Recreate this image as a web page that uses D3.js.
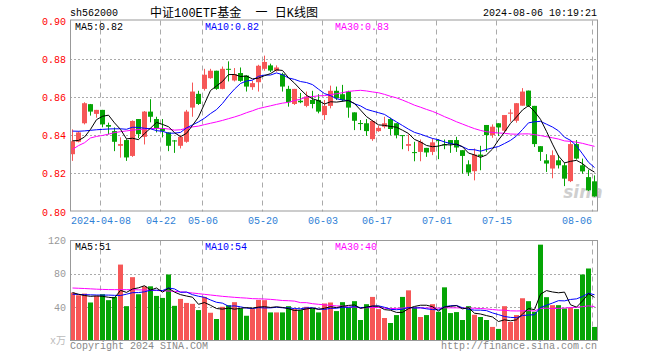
<!DOCTYPE html>
<html><head><meta charset="utf-8">
<script src="https://cdn.jsdelivr.net/npm/d3@7"></script>
<style>body{margin:0;background:#fff}svg{display:block}</style>
</head><body>
<svg id="c" width="660" height="360"></svg>
<script>
const dates = ["2024-03-28","2024-03-29","2024-04-01","2024-04-02","2024-04-03","2024-04-08","2024-04-09","2024-04-10","2024-04-11","2024-04-12",
"2024-04-15","2024-04-16","2024-04-17","2024-04-18","2024-04-19","2024-04-22","2024-04-23","2024-04-24","2024-04-25","2024-04-26",
"2024-04-29","2024-04-30","2024-05-06","2024-05-07","2024-05-08","2024-05-09","2024-05-10","2024-05-13","2024-05-14","2024-05-15",
"2024-05-16","2024-05-17","2024-05-20","2024-05-21","2024-05-22","2024-05-23","2024-05-24","2024-05-27","2024-05-28","2024-05-29",
"2024-05-30","2024-05-31","2024-06-03","2024-06-04","2024-06-05","2024-06-06","2024-06-07","2024-06-11","2024-06-12","2024-06-13",
"2024-06-14","2024-06-17","2024-06-18","2024-06-19","2024-06-20","2024-06-21","2024-06-24","2024-06-25","2024-06-26","2024-06-27",
"2024-06-28","2024-07-01","2024-07-02","2024-07-03","2024-07-04","2024-07-05","2024-07-08","2024-07-09","2024-07-10","2024-07-11",
"2024-07-12","2024-07-15","2024-07-16","2024-07-17","2024-07-18","2024-07-19","2024-07-22","2024-07-23","2024-07-24","2024-07-25",
"2024-07-26","2024-07-29","2024-07-30","2024-07-31","2024-08-01","2024-08-02","2024-08-05","2024-08-06"];

const open = [0.8300,0.8365,0.8462,0.8562,0.8511,0.8532,0.8453,0.8421,0.8344,0.8374,
0.8291,0.8484,0.8391,0.8523,0.8484,0.8435,0.8414,0.8372,0.8344,0.8365,
0.8544,0.8616,0.8642,0.8698,0.8737,0.8642,0.8747,0.8686,0.8725,0.8712,
0.8651,0.8677,0.8747,0.8765,0.8737,0.8719,0.8642,0.8563,0.8580,0.8553,
0.8584,0.8584,0.8505,0.8553,0.8632,0.8614,0.8628,0.8519,0.8463,0.8462,
0.8379,0.8421,0.8444,0.8484,0.8462,0.8400,0.8344,0.8311,0.8312,0.8333,
0.8312,0.8374,0.8351,0.8374,0.8374,0.8321,0.8247,0.8211,0.8298,0.8453,
0.8400,0.8462,0.8423,0.8512,0.8475,0.8554,0.8633,0.8553,0.8342,0.8268,
0.8225,0.8268,0.8242,0.8159,0.8353,0.8242,0.8180,0.8158];
const high = [0.8430,0.8420,0.8572,0.8563,0.8532,0.8532,0.8465,0.8440,0.8388,0.8379,
0.8477,0.8484,0.8526,0.8588,0.8496,0.8484,0.8414,0.8374,0.8400,0.8532,
0.8675,0.8632,0.8747,0.8747,0.8737,0.8759,0.8786,0.8751,0.8754,0.8712,
0.8684,0.8768,0.8816,0.8774,0.8765,0.8726,0.8658,0.8642,0.8621,0.8628,
0.8632,0.8614,0.8584,0.8659,0.8654,0.8663,0.8632,0.8519,0.8479,0.8484,
0.8479,0.8449,0.8496,0.8491,0.8462,0.8400,0.8404,0.8365,0.8377,0.8333,
0.8383,0.8379,0.8377,0.8374,0.8391,0.8321,0.8268,0.8330,0.8344,0.8453,
0.8456,0.8462,0.8505,0.8535,0.8568,0.8646,0.8633,0.8553,0.8342,0.8300,
0.8320,0.8295,0.8255,0.8374,0.8374,0.8277,0.8219,0.8189];
const low = [0.8265,0.8362,0.8456,0.8502,0.8491,0.8441,0.8404,0.8316,0.8282,0.8265,
0.8286,0.8384,0.8351,0.8467,0.8414,0.8388,0.8316,0.8307,0.8330,0.8360,
0.8496,0.8558,0.8633,0.8695,0.8637,0.8640,0.8681,0.8681,0.8679,0.8628,
0.8637,0.8628,0.8737,0.8730,0.8732,0.8628,0.8549,0.8558,0.8567,0.8546,
0.8540,0.8514,0.8479,0.8540,0.8584,0.8575,0.8491,0.8426,0.8426,0.8396,
0.8370,0.8417,0.8435,0.8400,0.8383,0.8326,0.8316,0.8263,0.8263,0.8286,
0.8295,0.8274,0.8326,0.8307,0.8312,0.8198,0.8186,0.8163,0.8216,0.8312,
0.8386,0.8395,0.8412,0.8470,0.8465,0.8554,0.8547,0.8338,0.8265,0.8207,
0.8174,0.8225,0.8133,0.8154,0.8272,0.8198,0.8107,0.8077];
const close = [0.8368,0.8414,0.8567,0.8523,0.8532,0.8456,0.8444,0.8365,0.8353,0.8283,
0.8474,0.8405,0.8523,0.8496,0.8435,0.8421,0.8344,0.8368,0.8391,0.8523,
0.8628,0.8563,0.8716,0.8737,0.8642,0.8747,0.8742,0.8719,0.8684,0.8654,
0.8672,0.8763,0.8783,0.8738,0.8754,0.8654,0.8572,0.8642,0.8572,0.8602,
0.8563,0.8523,0.8553,0.8632,0.8593,0.8584,0.8544,0.8475,0.8460,0.8421,
0.8474,0.8438,0.8462,0.8432,0.8400,0.8395,0.8353,0.8307,0.8365,0.8309,
0.8362,0.8370,0.8347,0.8353,0.8335,0.8291,0.8204,0.8298,0.8289,0.8400,
0.8444,0.8440,0.8505,0.8518,0.8567,0.8628,0.8553,0.8353,0.8312,0.8251,
0.8295,0.8242,0.8172,0.8353,0.8277,0.8210,0.8111,0.8079];
const volume = [57.5,54.3,56.3,45.6,53.5,55.5,48.4,52.3,91.1,41.2,
76,55.5,65,65,53.5,51.1,79.2,41.6,49.9,45.1,
44,36.5,52.3,33.3,25.8,40.4,42.4,46,38.5,29.7,
37.7,48.7,48.4,33.7,33.7,33.7,41.2,37.7,36.5,40.4,
38.5,33.7,44.4,45.6,35.3,46,39.2,47.2,24.6,43.6,
52.3,37.7,27,21,30.5,52.3,60.2,40.4,28.2,30.5,
43.6,34.5,63.8,32.9,34.1,24.6,41.2,30.9,28.2,24.6,
16.3,13.9,41.2,22.2,30.5,50.7,47.2,34.5,115,52,
42.4,42.4,38.5,39.2,37.7,79.2,86.4,16.3];

// moving-average values at the left edge (windows start before the visible range)
const ma5Lead = [0.8370,0.8372,0.8390,0.8430];
const ma10Lead = [0.8421,0.8420,0.8422,0.8425,0.8428,0.8430,0.8432,0.8433,0.8433];
const ma30Lead = [0.8325,0.8345,0.8360,0.8385,0.8393,0.8398,0.8405,0.8413,0.8418,0.8422,
0.8426,0.8429,0.8432,0.8434,0.8435,0.8435,0.8432,0.8426,0.8428,0.8436,
0.8443,0.8447,0.8455,0.8462,0.8469,0.8477,0.8486,0.8495,0.8505];
const volMa5Lead = [57.5,55.5,54,53];
const volMa10Lead = [55.5,55.3,55,54.8,54.6,54.5,54.5,54.2,54];
const volMa30Lead = [63,62.7,62.4,62,61.6,61.3,61.1,61,61,61,
61,60.8,60.6,60.3,60,59.7,59.4,59,58.4,57.8,
57,56.2,55.4,54.6,53.8,53,52.4,51.8,51.3];

const priceTicks = [0.80,0.82,0.84,0.86,0.88,0.90];
const volTicks = [40,80,120];
const dateTicks = ["2024-04-08","2024-04-22","2024-05-06","2024-05-20","2024-06-03","2024-06-17","2024-07-01","2024-07-15","2024-08-06"];
const dateTickLabels = ["2024-04-08","04-22","05-06","05-20","06-03","06-17","07-01","07-15","08-06"];

function movingAvg(arr, n, lead) {
  return arr.map((_, i) => i < n - 1 ? lead[i] : d3.mean(arr.slice(i - n + 1, i + 1)));
}
const ma5 = movingAvg(close, 5, ma5Lead), ma10 = movingAvg(close, 10, ma10Lead), ma30 = movingAvg(close, 30, ma30Lead);
const vma5 = movingAvg(volume, 5, volMa5Lead), vma10 = movingAvg(volume, 10, volMa10Lead), vma30 = movingAvg(volume, 30, volMa30Lead);

const RED = "#f65757", GREEN = "#05a505", GRID = "#aaaaaa", BORDER = "#999999";
const MONO = "'Liberation Mono','DejaVu Sans Mono',monospace";
const L = 70, R = 597, PT = 20.5, PB = 211.5, VT = 240.5, VB = 340.5;

const svg = d3.select("#c");
const x = d3.scaleBand().domain(dates).range([L, L + dates.length * 6]).padding(0);
const cx = d => x(d) + 2.5;
const y = d3.scaleLinear().domain([0.80, 0.90]).range([PB, PT]);
const yv = d3.scaleLinear().domain([0, 120]).range([VB, VT]);
const idx = d3.range(dates.length);
const isUp = i => close[i] >= open[i];

// header texts
svg.append("text").attr("x", L).attr("y", 16).attr("font-family", MONO).attr("font-size", 10).attr("fill", "#000").text("sh562000");
svg.append("text").attr("x", 150).attr("y", 17).attr("font-family", "'Liberation Mono','Noto Sans CJK SC',monospace").attr("font-size", 12).attr("fill", "#000").attr("xml:space","preserve").style("white-space","pre").text("中证100ETF基金  一 日K线图");
svg.append("text").attr("x", R).attr("y", 16).attr("text-anchor", "end").attr("font-family", MONO).attr("font-size", 10).attr("fill", "#000").text("2024-08-06 10:19:21");

// grids
function vGrid(top, bottom) {
  svg.append("g").selectAll("line").data(dateTicks).join("line")
    .attr("x1", d => x(d) + 0.5).attr("x2", d => x(d) + 0.5)
    .attr("y1", top).attr("y2", bottom)
    .attr("stroke", GRID).attr("stroke-dasharray", "5,4");
}
vGrid(PT, PB); vGrid(VT, VB);
svg.append("g").selectAll("line").data(priceTicks.slice(1, -1)).join("line")
  .attr("x1", L).attr("x2", R).attr("y1", d => Math.round(y(d)) + 0.5).attr("y2", d => Math.round(y(d)) + 0.5)
  .attr("stroke", GRID).attr("stroke-dasharray", "2,2");
svg.append("g").selectAll("line").data(volTicks.slice(0, -1)).join("line")
  .attr("x1", L).attr("x2", R).attr("y1", d => Math.round(yv(d)) + 0.5).attr("y2", d => Math.round(yv(d)) + 0.5)
  .attr("stroke", GRID).attr("stroke-dasharray", "2,2");

// watermark
svg.append("text").attr("x", 583).attr("y", 198).attr("text-anchor", "middle").attr("font-family", "'DejaVu Sans',sans-serif")
  .attr("font-size", 17).attr("font-style", "italic").attr("font-weight", "bold").attr("fill", "#cfcfcf").text("sina");

// candles
const cg = svg.append("g");
cg.selectAll("line").data(idx).join("line")
  .attr("x1", i => cx(dates[i])).attr("x2", i => cx(dates[i]))
  .attr("y1", i => y(high[i])).attr("y2", i => y(low[i]))
  .attr("stroke", i => isUp(i) ? RED : GREEN).attr("stroke-width", 1);
cg.selectAll("rect").data(idx).join("rect")
  .attr("x", i => x(dates[i])).attr("width", 5)
  .attr("y", i => y(Math.max(open[i], close[i])))
  .attr("height", i => Math.max(1, Math.abs(y(open[i]) - y(close[i]))))
  .attr("fill", i => isUp(i) ? RED : GREEN);

// volume bars
svg.append("g").selectAll("rect").data(idx).join("rect")
  .attr("x", i => x(dates[i])).attr("width", 5)
  .attr("y", i => yv(volume[i])).attr("height", i => VB - yv(volume[i]))
  .attr("fill", i => isUp(i) ? RED : GREEN);

// MA lines
function maLine(values, scale, color) {
  const line = d3.line().x((v, i) => cx(dates[i])).y(v => scale(v));
  svg.append("path").datum(values).attr("d", line).attr("fill", "none").attr("stroke", color).attr("stroke-width", 1);
}
maLine(ma30, y, "#ff00ff"); maLine(ma10, y, "#0000ff"); maLine(ma5, y, "#000000");
maLine(vma30, yv, "#ff00ff"); maLine(vma10, yv, "#0000ff"); maLine(vma5, yv, "#000000");

// borders
svg.append("rect").attr("x", L + 0.5).attr("y", PT - 0.5 + 0.5 - 0.5).attr("width", R - L).attr("height", PB - PT).attr("fill", "none").attr("stroke", BORDER);
svg.append("rect").attr("x", L + 0.5).attr("y", VT).attr("width", R - L).attr("height", VB - VT).attr("fill", "none").attr("stroke", BORDER);

// axis labels
svg.append("g").selectAll("text").data(priceTicks).join("text")
  .attr("x", 66).attr("y", d => y(d) + 0.5).attr("dy", "0.35em").attr("text-anchor", "end")
  .attr("font-family", MONO).attr("font-size", 10).attr("fill", "#ff0000").text(d => d.toFixed(2));
svg.append("g").selectAll("text").data(volTicks).join("text")
  .attr("x", 66).attr("y", d => yv(d)).attr("dy", "0.35em").attr("text-anchor", "end")
  .attr("font-family", MONO).attr("font-size", 10).attr("fill", "#999999").text(d => d);
svg.append("text").attr("x", 66).attr("y", 341).attr("dy", "0.3em").attr("text-anchor", "end")
  .attr("font-family", "'Liberation Mono','Noto Sans CJK SC',monospace").attr("font-size", 10).attr("fill", "#bbbbbb").text("x万");
svg.append("g").selectAll("text").data(dateTicks).join("text")
  .attr("x", (d, i) => i === dateTicks.length - 1 ? x(d) : x(d) + 1)
  .attr("y", 224).attr("text-anchor", (d, i) => i === dateTicks.length - 1 ? "end" : "middle")
  .attr("font-family", MONO).attr("font-size", 10).attr("fill", "#2f7fd6").text((d, i) => dateTickLabels[i]);

// legends
const last = dates.length - 1;
const legend = (yy, items) => items.forEach(([xx, color, t]) =>
  svg.append("text").attr("x", xx).attr("y", yy).attr("font-family", MONO).attr("font-size", 10).attr("fill", color).text(t));
legend(30, [[75, "#000", "MA5:" + ma5[last].toFixed(2)], [205, "#0000ff", "MA10:" + ma10[last].toFixed(2)], [335, "#ff00ff", "MA30:" + ma30[last].toFixed(2)]]);
legend(250, [[75, "#000", "MA5:" + Math.floor(vma5[last])], [205, "#0000ff", "MA10:" + Math.floor(vma10[last])], [335, "#ff00ff", "MA30:" + Math.floor(vma30[last])]]);

// footer
svg.append("text").attr("x", L).attr("y", 349).attr("font-family", MONO).attr("font-size", 10).attr("fill", "#888888").text("Copyright 2024 SINA.COM");
svg.append("text").attr("x", R).attr("y", 349).attr("text-anchor", "end").attr("font-family", MONO).attr("font-size", 10).attr("fill", "#888888").text("http://finance.sina.com.cn");
</script>
</body></html>
